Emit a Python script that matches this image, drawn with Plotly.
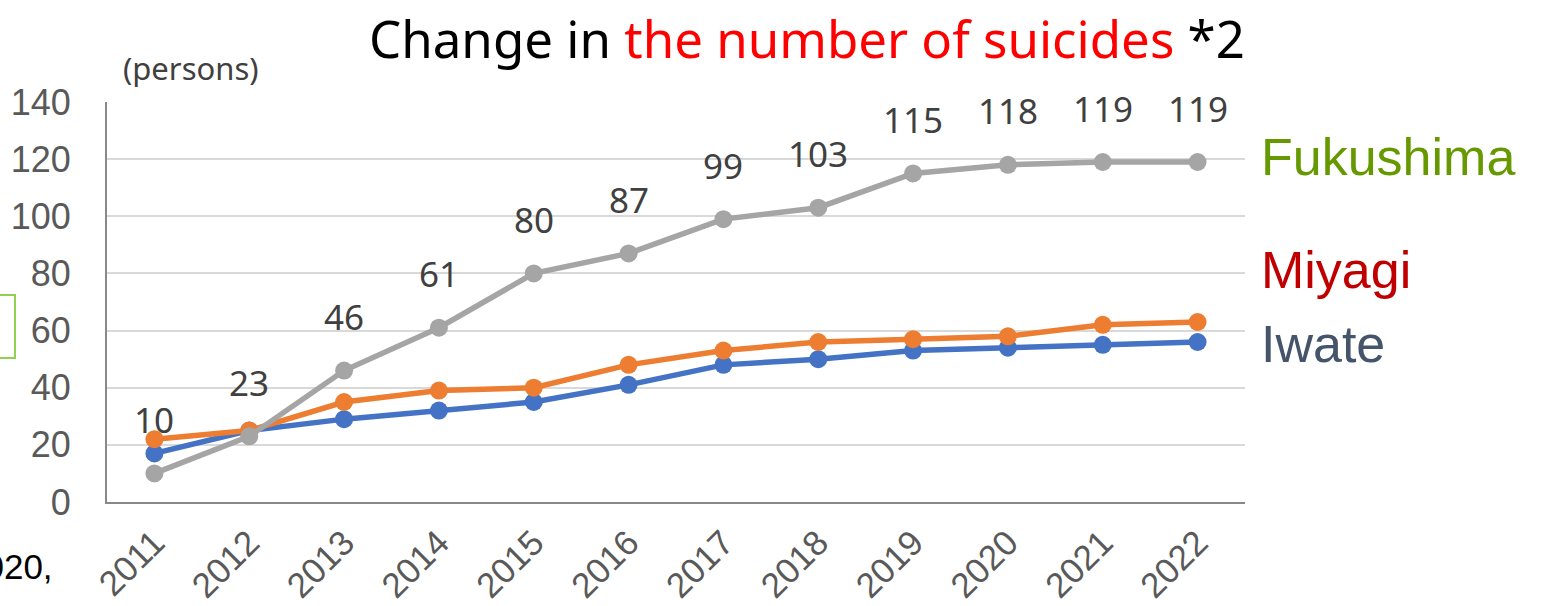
import plotly.graph_objects as go

years = ["2011", "2012", "2013", "2014", "2015", "2016", "2017", "2018", "2019", "2020", "2021", "2022"]
iwate = [17, 25, 29, 32, 35, 41, 48, 50, 53, 54, 55, 56]
miyagi = [22, 25, 35, 39, 40, 48, 53, 56, 57, 58, 62, 63]
fukushima = [10, 23, 46, 61, 80, 87, 99, 103, 115, 118, 119, 119]

W, H = 1549, 606
L, R, T, B = 107, 304, 102, 104
PW, PH = W - L - R, H - T - B

def px(x):
    return (x - L) / PW

def py(y):
    return (H - B - y) / PH

fig = go.Figure()
series = [("Iwate", iwate, "#4472c4"), ("Miyagi", miyagi, "#ed7d31"), ("Fukushima", fukushima, "#a5a5a5")]
for name, vals, col in series:
    fig.add_trace(go.Scatter(x=years, y=vals, name=name, mode="lines+markers",
                             line=dict(color=col, width=5.5),
                             marker=dict(color=col, size=18),
                             cliponaxis=False))

annotations = []
for i, v in enumerate(fukushima):
    annotations.append(dict(x=i, y=v, xref="x", yref="y", text=str(v), showarrow=False,
                            yshift=54, font=dict(family="Noto Sans", size=35, color="#404040")))

annotations.append(dict(x=px(807), y=py(38), xref="paper", yref="paper", showarrow=False,
                        text="Change in <span style='color:#ff0000'>the number of suicides</span> *2",
                        font=dict(family="Noto Sans", size=51, color="#000000"),
                        xanchor="center", yanchor="middle"))
annotations.append(dict(x=px(121), y=py(68), xref="paper", yref="paper", showarrow=False,
                        text="(persons)", xanchor="left", yanchor="middle",
                        font=dict(family="Noto Sans", size=31, color="#404040")))
for txt, col, yc in [("Fukushima", "#669900", 157), ("Miyagi", "#c00000", 270), ("Iwate", "#44546a", 344)]:
    annotations.append(dict(x=px(1259), y=py(yc), xref="paper", yref="paper", showarrow=False,
                            text=txt, xanchor="left", yanchor="middle",
                            font=dict(family="Liberation Sans, Arial", size=52, color=col)))
annotations.append(dict(x=px(55), y=py(566), xref="paper", yref="paper", showarrow=False,
                        text="2020,", xanchor="right", yanchor="middle",
                        font=dict(family="Liberation Sans, Arial", size=35, color="#000000")))

shapes = [dict(type="rect", xref="paper", yref="paper", x0=px(-10), x1=px(15), y0=py(295), y1=py(358),
               line=dict(color="#92d050", width=2), fillcolor="rgba(0,0,0,0)")]

fig.update_layout(
    width=W, height=H, margin=dict(l=L, r=R, t=T, b=B, autoexpand=False),
    paper_bgcolor="white", plot_bgcolor="white", showlegend=False,
    annotations=annotations, shapes=shapes,
    xaxis=dict(type="category", range=[-0.5, 11.5], tickangle=-45, showgrid=False,
               showline=True, linecolor="#898989", linewidth=2, ticks="", automargin=False,
               tickfont=dict(family="Liberation Sans, Arial", size=35, color="#595959"),
               ticklabelstandoff=4, zeroline=False),
    yaxis=dict(range=[0, 140], dtick=20, showgrid=True, gridcolor="#d9d9d9", gridwidth=2,
               showline=True, linecolor="#898989", linewidth=2, ticks="", zeroline=False,
               automargin=False,
               tickfont=dict(family="Liberation Sans, Arial", size=36, color="#595959"),
               ticklabelstandoff=27),
)

fig.write_html("out.html", config={"displayModeBar": False},
               post_script="document.body.style.margin='0';")
